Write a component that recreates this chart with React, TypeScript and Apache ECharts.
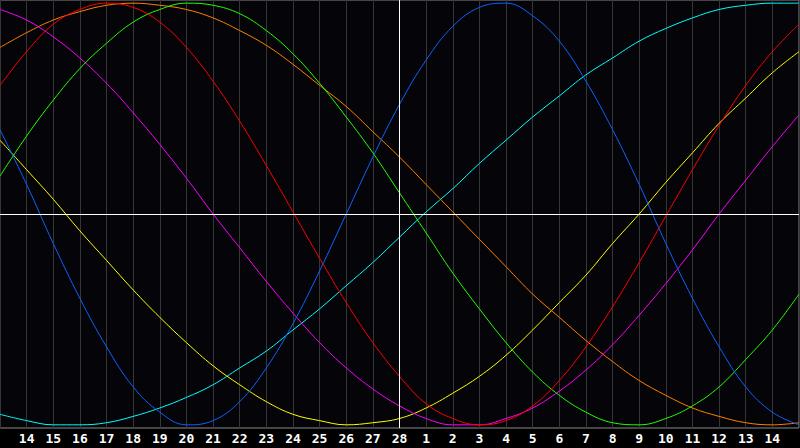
import { useEffect, useRef } from "react";
import * as echarts from "echarts";

// day labels at grid lines 1..29 (index 15 = the 28th, centre line)
const dayLabels = [
  "14", "15", "16", "17", "18", "19", "20", "21", "22", "23", "24", "25", "26", "27", "28",
  "1", "2", "3", "4", "5", "6", "7", "8", "9", "10", "11", "12", "13", "14",
];

// values read at each day line, index 0..30
const physical = [
  0.4, 0.14, -0.14, -0.4, -0.63, -0.82, -0.94, -1.0, -0.98, -0.89, -0.73, -0.52, -0.27, 0.0, 0.27, 0.52,
  0.73, 0.89, 0.98, 1.0, 0.94, 0.82, 0.63, 0.4, 0.14, -0.14, -0.4, -0.63, -0.82, -0.94, -1.0,
];
const emotional = [
  0.61, 0.77, 0.9, 0.97, 1.0, 0.98, 0.91, 0.79, 0.63, 0.44, 0.23, 0.01, -0.21, -0.42, -0.61, -0.77,
  -0.9, -0.97, -1.0, -0.98, -0.91, -0.79, -0.63, -0.44, -0.23, -0.01, 0.21, 0.42, 0.61, 0.77, 0.9,
];
const intellectual = [
  0.18, 0.37, 0.54, 0.69, 0.81, 0.91, 0.97, 1.0, 0.99, 0.95, 0.87, 0.76, 0.62, 0.46, 0.29, 0.1,
  -0.09, -0.28, -0.45, -0.61, -0.75, -0.86, -0.94, -0.99, -1.0, -0.97, -0.91, -0.82, -0.69, -0.55, -0.38,
];
const intuitive = [
  0.97, 0.92, 0.84, 0.74, 0.62, 0.48, 0.33, 0.17, 0.0, -0.16, -0.32, -0.47, -0.61, -0.73, -0.83, -0.91,
  -0.97, -1.0, -1.0, -0.97, -0.92, -0.84, -0.74, -0.62, -0.48, -0.33, -0.17, 0.0, 0.16, 0.32, 0.47,
];
const aesthetic = [
  0.35, 0.21, 0.07, -0.08, -0.22, -0.36, -0.49, -0.61, -0.72, -0.81, -0.89, -0.95, -0.98, -1.0, -0.99, -0.97,
  -0.92, -0.85, -0.77, -0.67, -0.55, -0.42, -0.29, -0.14, 0.0, 0.15, 0.29, 0.43, 0.55, 0.67, 0.77,
];
const awareness = [
  0.79, 0.86, 0.92, 0.96, 0.99, 1.0, 0.99, 0.97, 0.93, 0.87, 0.8, 0.71, 0.61, 0.51, 0.39, 0.27,
  0.14, 0.01, -0.12, -0.25, -0.38, -0.49, -0.6, -0.7, -0.79, -0.86, -0.92, -0.96, -0.99, -1.0, -0.99,
];
const spiritual = [
  -0.95, -0.98, -1.0, -1.0, -0.99, -0.96, -0.92, -0.87, -0.81, -0.73, -0.65, -0.55, -0.45, -0.34, -0.23, -0.11,
  0.01, 0.12, 0.24, 0.35, 0.46, 0.56, 0.66, 0.74, 0.82, 0.88, 0.93, 0.97, 0.99, 1.0, 1.0,
];

const cycles = [
  { name: "Spiritual", color: "#00ffff", values: spiritual },
  { name: "Aesthetic", color: "#ffff00", values: aesthetic },
  { name: "Awareness", color: "#ff8000", values: awareness },
  { name: "Intuitive", color: "#ff00ff", values: intuitive },
  { name: "Intellectual", color: "#22ff00", values: intellectual },
  { name: "Emotional", color: "#ff0000", values: emotional },
  { name: "Physical", color: "#0a64ff", values: physical },
];

export default function App() {
  const ref = useRef<HTMLDivElement>(null);

  useEffect(() => {
    if (!ref.current) return;
    const chart = echarts.init(ref.current, null, { renderer: "svg" });

    chart.setOption({
      animation: false,
      backgroundColor: "#000000",
      grid: {
        left: 0,
        top: 0,
        right: 1,
        bottom: 20,
        show: true,
        backgroundColor: "#050408",
        borderColor: "#8a8a8a",
        borderWidth: 1,
      },
      xAxis: {
        type: "value",
        min: 0,
        max: 30,
        interval: 1,
        axisLine: { show: false },
        axisTick: { show: false },
        splitLine: { show: true, lineStyle: { color: "#363636", width: 1 } },
        axisLabel: {
          show: true,
          showMinLabel: false,
          showMaxLabel: false,
          margin: 4,
          color: "#ffffff",
          fontSize: 13,
          fontWeight: "bold",
          fontFamily: "DejaVu Sans Mono",
          formatter: (v: number) => dayLabels[v - 1] ?? "",
        },
      },
      yAxis: {
        type: "value",
        min: -1.015,
        max: 1.015,
        axisLine: { show: false },
        axisTick: { show: false },
        axisLabel: { show: false },
        splitLine: { show: false },
      },
      series: [
        {
          type: "line",
          data: [],
          silent: true,
          z: 1,
          markLine: {
            silent: true,
            symbol: ["none", "none"],
            label: { show: false },
            lineStyle: { color: "#ffffff", width: 1, type: "solid" },
            data: [{ xAxis: 15 }, { yAxis: 0 }],
          },
        },
        ...cycles.map((c) => ({
          name: c.name,
          type: "line",
          data: c.values.map((v, i) => [i, v]),
          smooth: 0.4,
          symbol: "none",
          lineStyle: { color: c.color, width: 1 },
          z: 2,
        })),
      ],
    });

    return () => chart.dispose();
  }, []);

  return (
    <div
      ref={ref}
      style={{ position: "absolute", left: 0, top: 0, width: 800, height: 448, background: "#000" }}
    />
  );
}
